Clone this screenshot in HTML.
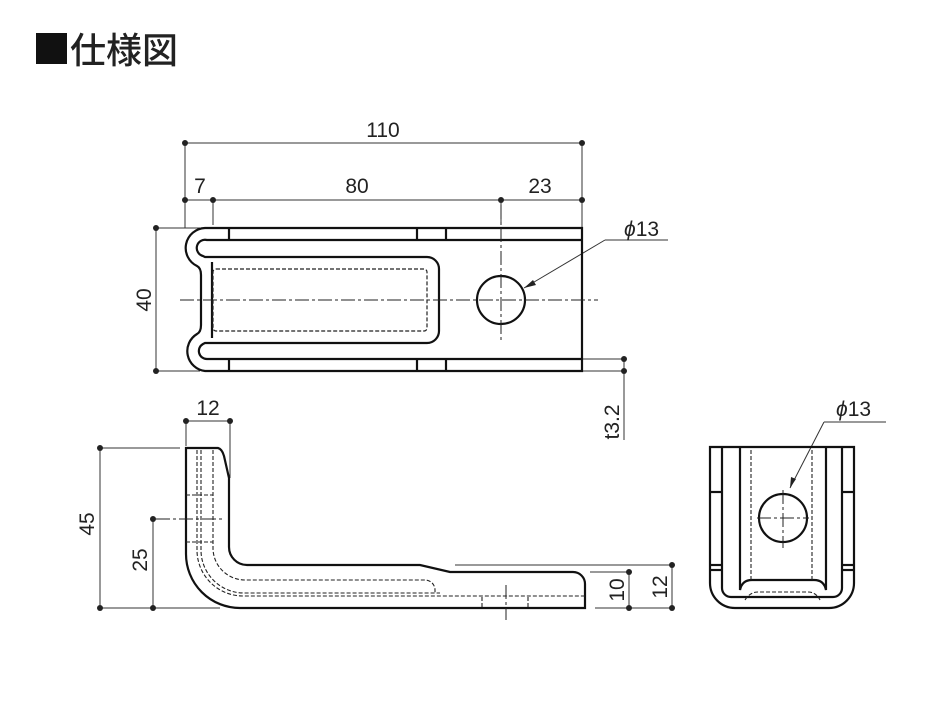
<!DOCTYPE html>
<html><head><meta charset="utf-8"><style>
html,body{margin:0;padding:0;background:#fff;}
svg{display:block}
text{font-family:"Liberation Sans",sans-serif;fill:#222}
</style></head><body>
<svg width="947" height="720" viewBox="0 0 947 720" xmlns="http://www.w3.org/2000/svg">
<rect x="36" y="33" width="31" height="31" fill="#111"/>
<text x="70" y="63" font-size="36" font-weight="500" style="font-family:'Noto Sans CJK JP',sans-serif" fill="#111">仕様図</text>

<g stroke="#333" stroke-width="1" fill="none">
<line x1="185" y1="143" x2="582" y2="143"/>
<line x1="185" y1="143" x2="185" y2="228"/>
<line x1="582" y1="143" x2="582" y2="228"/>
<line x1="185" y1="200" x2="582" y2="200"/>
<line x1="213" y1="200" x2="213" y2="225"/>
<line x1="501" y1="200" x2="501" y2="225"/>
<line x1="156" y1="228" x2="200" y2="228"/>
<line x1="156" y1="371" x2="200" y2="371"/>
<line x1="156" y1="228" x2="156" y2="371"/>
<line x1="582" y1="359" x2="624" y2="359"/>
<line x1="582" y1="371" x2="624" y2="371"/>
<line x1="624" y1="359" x2="624" y2="440"/>
<line x1="605" y1="240" x2="668" y2="240"/>
<line x1="605" y1="240" x2="524" y2="288"/>
<line x1="186" y1="421" x2="230" y2="421"/>
<line x1="186" y1="421" x2="186" y2="446"/>
<line x1="230" y1="421" x2="230" y2="478"/>
<line x1="100" y1="448" x2="180" y2="448"/>
<line x1="100" y1="608" x2="220" y2="608"/>
<line x1="100" y1="448" x2="100" y2="608"/>
<line x1="153" y1="519" x2="153" y2="608"/>
<line x1="590" y1="572" x2="629" y2="572"/>
<line x1="595" y1="608" x2="672" y2="608"/>
<line x1="455" y1="565" x2="672" y2="565"/>
<line x1="629" y1="572" x2="629" y2="608"/>
<line x1="672" y1="565" x2="672" y2="608"/>
<line x1="824" y1="422" x2="886" y2="422"/>
<line x1="824" y1="422" x2="790" y2="488"/>
</g>
<g fill="#222">
<circle cx="185" cy="143" r="3"/><circle cx="582" cy="143" r="3"/>
<circle cx="185" cy="200" r="3"/><circle cx="213" cy="200" r="3"/><circle cx="501" cy="200" r="3"/><circle cx="582" cy="200" r="3"/>
<circle cx="156" cy="228" r="3"/><circle cx="156" cy="371" r="3"/>
<circle cx="624" cy="359" r="3"/><circle cx="624" cy="371" r="3"/>
<circle cx="186" cy="421" r="3"/><circle cx="230" cy="421" r="3"/>
<circle cx="100" cy="448" r="3"/><circle cx="100" cy="608" r="3"/>
<circle cx="153" cy="519" r="3"/><circle cx="153" cy="608" r="3"/>
<circle cx="629" cy="572" r="3"/><circle cx="629" cy="608" r="3"/>
<circle cx="672" cy="565" r="3"/><circle cx="672" cy="608" r="3"/>
<polygon points="524,288 533,280 536,285"/>
<polygon points="790,488 791,477 796,479"/>
</g>
<g font-size="21">
<text x="383" y="137" text-anchor="middle">110</text>
<text x="200" y="193" text-anchor="middle">7</text>
<text x="357" y="193" text-anchor="middle">80</text>
<text x="540" y="193" text-anchor="middle">23</text>
<text x="624" y="236"><tspan font-style="italic">ϕ</tspan>13</text>
<text x="836" y="416"><tspan font-style="italic">ϕ</tspan>13</text>
<text x="208" y="415" text-anchor="middle">12</text>
<text transform="translate(151,300) rotate(-90)" text-anchor="middle">40</text>
<text transform="translate(619,422) rotate(-90)" text-anchor="middle">t3.2</text>
<text transform="translate(94,524) rotate(-90)" text-anchor="middle">45</text>
<text transform="translate(147,560) rotate(-90)" text-anchor="middle">25</text>
<text transform="translate(624,590) rotate(-90)" text-anchor="middle">10</text>
<text transform="translate(667,587) rotate(-90)" text-anchor="middle">12</text>
</g>

<g stroke="#111" stroke-width="2.2" fill="none">
<path d="M582,228 L205,228 A20,20 0 0 0 197,266 Q201,268 201,275 L201,325 Q201,332 197,334 A20,20 0 0 0 205,371 L582,371 Z"/>
<path d="M582,240 L207,240 A8,8 0 0 0 203,256 L205,257 L427,257 A12,12 0 0 1 439,269 L439,331 A12,12 0 0 1 427,343 L205,343 L203,344 A8,8 0 0 0 207,359 L582,359"/>
<line x1="212" y1="262" x2="212" y2="338"/>
<line x1="229" y1="228" x2="229" y2="240"/><line x1="417" y1="228" x2="417" y2="240"/><line x1="446" y1="228" x2="446" y2="240"/>
<line x1="229" y1="359" x2="229" y2="371"/><line x1="417" y1="359" x2="417" y2="371"/><line x1="446" y1="359" x2="446" y2="371"/>
<circle cx="501" cy="300" r="24"/>
</g>
<rect x="213" y="269" width="214" height="62" rx="3" fill="none" stroke="#222" stroke-width="1.2" stroke-dasharray="4,2"/>
<g stroke="#222" stroke-width="1" stroke-dasharray="14,3,3,3">
<line x1="180" y1="300" x2="598" y2="300"/>
<line x1="501" y1="205" x2="501" y2="340"/>
</g>

<g stroke="#111" stroke-width="2.2" fill="none">
<path d="M186,448 L218,448 Q222,449 224,456 L229,478 L229,547 A18,18 0 0 0 247,565 L420,565 L450,572 L573,572 A12,12 0 0 1 585,584 L585,608 L240,608 A54,54 0 0 1 186,554 Z"/>
</g>
<g stroke="#222" stroke-width="1.1" fill="none" stroke-dasharray="4,2">
<path d="M197,450 L197,550 A46,46 0 0 0 243,596 L585,596"/>
<path d="M201,450 L201,550 A43,43 0 0 0 244,593 L440,593"/>
<path d="M213,450 L213,548 A32,32 0 0 0 245,580 L425,580 A10,10 0 0 1 435,590 L435,593"/>
<line x1="186" y1="495" x2="213" y2="495"/>
<line x1="186" y1="542" x2="213" y2="542"/>
<line x1="482" y1="597" x2="482" y2="608"/>
<line x1="528" y1="597" x2="528" y2="608"/>
</g>
<g stroke="#222" stroke-width="1" stroke-dasharray="14,3,3,3">
<line x1="156" y1="519" x2="222" y2="519"/>
<line x1="506" y1="585" x2="506" y2="620"/>
</g>

<g stroke="#111" stroke-width="2.2" fill="none">
<path d="M710,447 L710,583 A25,25 0 0 0 735,608 L829,608 A25,25 0 0 0 854,583 L854,447 Z"/>
<path d="M722,447 L722,588 A9,9 0 0 0 731,597 L833,597 A9,9 0 0 0 842,588 L842,447"/>
<path d="M740,447 L740,590 Q742,580 752,580 L814,580 Q824,580 826,590 L826,447"/>
<line x1="710" y1="492" x2="722" y2="492"/><line x1="842" y1="492" x2="854" y2="492"/>
<line x1="710" y1="565" x2="722" y2="565"/><line x1="842" y1="565" x2="854" y2="565"/>
<line x1="710" y1="570" x2="722" y2="570"/><line x1="842" y1="570" x2="854" y2="570"/>
<circle cx="783" cy="518" r="24"/>
</g>
<g stroke="#222" stroke-width="1.1" fill="none" stroke-dasharray="4,2">
<line x1="751" y1="450" x2="751" y2="580"/>
<line x1="812" y1="450" x2="812" y2="580"/>
<path d="M745,600 Q750,592 758,592 L808,592 Q816,592 820,600"/>
</g>
<g stroke="#222" stroke-width="1" stroke-dasharray="14,3,3,3">
<line x1="757" y1="518" x2="809" y2="518"/>
<line x1="783" y1="490" x2="783" y2="548"/>
</g>
</svg>
</body></html>
